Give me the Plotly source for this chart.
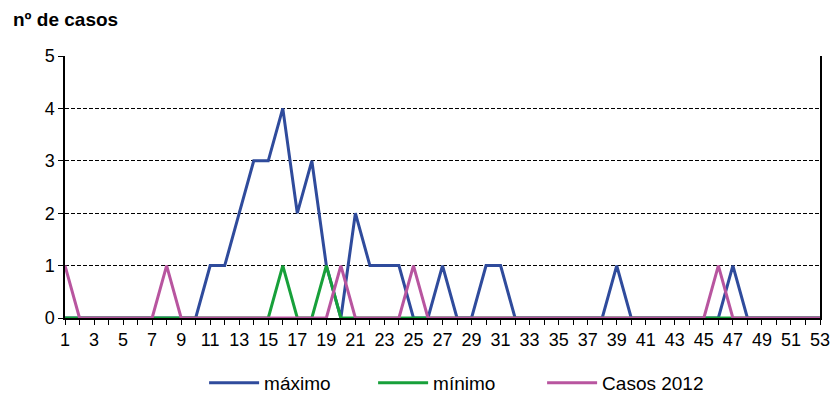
import plotly.graph_objects as go

# semanas 1..53
semanas = list(range(1, 54))

maximo = [0, 0, 0, 0, 0, 0, 0, 0, 0, 0,
          1, 1, 2, 3, 3, 4, 2, 3, 1, 0,
          2, 1, 1, 1, 0, 0, 1, 0, 0, 1,
          1, 0, 0, 0, 0, 0, 0, 0, 1, 0,
          0, 0, 0, 0, 0, 0, 1, 0, 0, 0,
          0, 0, 0]

minimo = [0, 0, 0, 0, 0, 0, 0, 0, 0, 0,
          0, 0, 0, 0, 0, 1, 0, 0, 1, 0,
          0, 0, 0, 0, 0, 0, 0, 0, 0, 0,
          0, 0, 0, 0, 0, 0, 0, 0, 0, 0,
          0, 0, 0, 0, 0, 0, 0, 0, 0, 0,
          0, 0, 0]

casos_2012 = [1, 0, 0, 0, 0, 0, 0, 1, 0, 0,
              0, 0, 0, 0, 0, 0, 0, 0, 0, 1,
              0, 0, 0, 0, 1, 0, 0, 0, 0, 0,
              0, 0, 0, 0, 0, 0, 0, 0, 0, 0,
              0, 0, 0, 0, 0, 1, 0, 0, 0, 0,
              0, 0, 0]

tick_labels = [str(s) if s % 2 == 1 else '' for s in semanas]

fig = go.Figure()
fig.add_trace(go.Scatter(x=semanas, y=maximo, mode='lines', name='máximo',
                         line=dict(color='#2F4B9C', width=3)))
fig.add_trace(go.Scatter(x=semanas, y=minimo, mode='lines', name='mínimo',
                         line=dict(color='#17A03A', width=3)))
fig.add_trace(go.Scatter(x=semanas, y=casos_2012, mode='lines', name='Casos 2012',
                         line=dict(color='#B8559F', width=3)))

fig.update_layout(
    width=832, height=394,
    margin=dict(l=65, r=12, t=56, b=76, autoexpand=False),
    paper_bgcolor='white', plot_bgcolor='white',
    font=dict(family='Liberation Sans, Arial, sans-serif', size=18, color='black'),
    showlegend=True,
    legend=dict(orientation='h', x=0.52, xanchor='center', y=-0.248, yanchor='middle',
                font=dict(size=19), itemwidth=50, traceorder='normal',
                entrywidth=104, entrywidthmode='pixels'),
    annotations=[dict(text='<b>nº de casos</b>', xref='paper', yref='paper',
                      x=-0.072, y=1.14, xanchor='left', yanchor='middle',
                      showarrow=False, font=dict(size=19))],
)

fig.update_xaxes(range=[1, 53], tickmode='array', tickvals=semanas, ticktext=tick_labels,
                 showline=True, linecolor='black', linewidth=1.5,
                 ticks='outside', ticklen=5, tickcolor='black', automargin=False,
                 showgrid=False, zeroline=False, tickfont=dict(size=18))
fig.update_yaxes(range=[0, 5], dtick=1, showline=True, linecolor='black', linewidth=1.5,
                 mirror=True, ticks='outside', ticklen=5, tickcolor='black', automargin=False,
                 showgrid=True, gridcolor='black', griddash='4px,2px', gridwidth=1.2,
                 zeroline=False, tickfont=dict(size=18))

# drop the default body margin so the figure fills the window exactly
fig.write_html("out.html", config={'displayModeBar': False},
               post_script="document.body.style.margin='0';document.body.style.overflow='hidden';")
